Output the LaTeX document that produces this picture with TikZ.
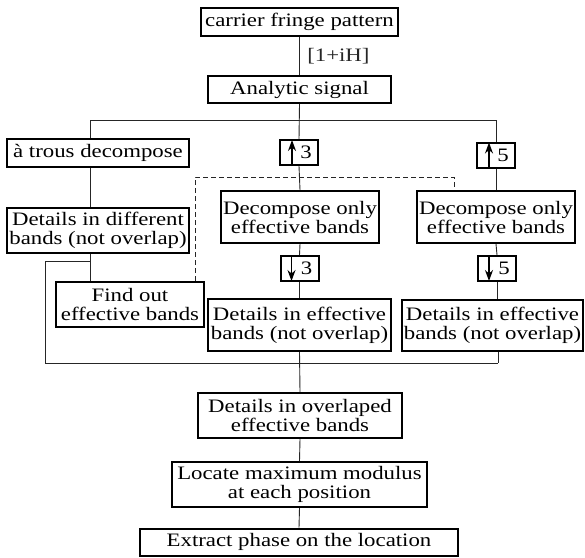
\documentclass[tikz,border=0pt]{standalone}
\usepackage{fontspec}
\setmainfont{Liberation Serif}[FakeStretch=1.2]
\usetikzlibrary{arrows.meta, positioning, calc}

\begin{document}
\begin{tikzpicture}[
  x=1pt, y=-1pt,
  %% Process box style
  box/.style={
    rectangle, draw, line width=2pt,
    align=center, font=\fontsize{19}{19}\selectfont,
    inner xsep=2pt, inner ysep=1pt
  },
  %% Up/down sampling box
  smp/.style={box, minimum width=38pt, minimum height=25pt, inner sep=0pt},
  %% Thin connector
  lnk/.style={line width=0.9pt, black!85},
  %% Sampling arrow inside box
  sarr/.style={-{Stealth[length=11pt,width=8pt]}, line width=1.3pt},
]

%% ── Frame ───────────────────────────────────────────────────────────────────
\useasboundingbox (0,0) rectangle (585,557);

%% ── TOP ─────────────────────────────────────────────────────────────────────
\node[box, minimum width=197pt, minimum height=28pt]
  (carrier) at (299.5,22) {carrier fringe pattern};
\node[box, minimum width=183pt, minimum height=27pt]
  (analytic) at (299.5,89.5) {Analytic signal};

%% ── LEFT BRANCH ─────────────────────────────────────────────────────────────
\node[box, minimum width=182pt, minimum height=28pt]
  (atrous) at (98,153) {à trous decompose};
\node[box, minimum width=182pt, minimum height=45pt]
  (ddiff) at (98,230.5) {Details in different\\bands (not overlap)};
\node[box, minimum width=148pt, minimum height=45pt]
  (find) at (130,304.5) {Find out\\effective bands};

%% ── MIDDLE BRANCH ───────────────────────────────────────────────────────────
\node[smp] (up3) at (299,152.5) {\hspace*{14pt}3};
\node[box, minimum width=156pt, minimum height=52pt]
  (mdec) at (300,217) {Decompose only\\effective bands};
\node[smp] (dn3) at (299.5,268.5) {\hspace*{14pt}3};
\node[box, minimum width=183pt, minimum height=52pt]
  (mdet) at (299.5,325) {Details in effective\\bands (not overlap)};

%% ── RIGHT BRANCH ────────────────────────────────────────────────────────────
\node[smp] (up5) at (496,155) {\hspace*{14pt}5};
\node[box, minimum width=156pt, minimum height=52pt]
  (rdec) at (496,217) {Decompose only\\effective bands};
\node[smp] (dn5) at (497,268.5) {\hspace*{14pt}5};
\node[box, minimum width=181pt, minimum height=51pt]
  (rdet) at (492.5,325) {Details in effective\\bands (not overlap)};

%% ── BOTTOM ──────────────────────────────────────────────────────────────────
\node[box, minimum width=204pt, minimum height=45pt]
  (overl) at (300,415.5) {Details in overlaped\\effective bands};
\node[box, minimum width=255pt, minimum height=45pt]
  (locate) at (299.5,484.5) {Locate maximum modulus\\at each position};
\node[box, minimum width=318pt, minimum height=27pt]
  (extract) at (299,542) {Extract phase on the location};

%% ── Sampling arrows ─────────────────────────────────────────────────────────
\draw[sarr] ([xshift=-7pt]up3.south) -- ([xshift=-7pt,yshift=-1pt]up3.north);
\draw[sarr] ([xshift=-7pt]up5.south) -- ([xshift=-7pt,yshift=-1pt]up5.north);
\draw[sarr] ([xshift=-8pt]dn3.north) -- ([xshift=-8pt,yshift=1pt]dn3.south);
\draw[sarr] ([xshift=-8pt]dn5.north) -- ([xshift=-8pt,yshift=1pt]dn5.south);

%% ── Main flow ───────────────────────────────────────────────────────────────
\draw[lnk] (carrier) -- (analytic)
  node[midway, right=4pt, font=\fontsize{19}{19}\selectfont] {[1+iH]};
\draw[lnk] (analytic.south) -- (up3.north);
\draw[lnk] ([xshift=-8pt]atrous.north) -- ++(0,-18) -| (up5.north);

%% left
\draw[lnk] ([xshift=-8pt]atrous.south) -- ([xshift=-8pt]ddiff.north);
\draw[lnk] ([xshift=-8pt]ddiff.south) -- ([xshift=-40pt]find.north);
%% middle
\draw[lnk] (up3.south) -- (mdec.north);
\draw[lnk] (mdec.south) -- (dn3.north);
\draw[lnk] (dn3.south) -- (mdet.north);
%% right
\draw[lnk] (up5.south) -- (rdec.north);
\draw[lnk] (rdec.south) -- (dn5.north);
\draw[lnk] (dn5.south) -- (dn5.south |- rdet.north);

%% ── Merge ───────────────────────────────────────────────────────────────────
\coordinate (lj) at (90,261);
\coordinate (lc) at (45,363);
\coordinate (rc) at (498,363);
\draw[lnk] (lj) -| (lc) -- (rc);
\draw[lnk] (rdet.south -| rc) -- (rc);
\draw[lnk] (mdet.south) -- (overl.north);
\draw[lnk] (overl.south) -- (locate.north);
\draw[lnk] (locate.south) -- (extract.north);

%% ── Dashed feedback ─────────────────────────────────────────────────────────
\coordinate (dtop) at (454,177);
\coordinate (dend) at (454,188);
\draw[lnk, dashed, dash pattern=on 5pt off 3pt]
  ([xshift=65pt]find.north) |- (dtop) -- (dend);

\end{tikzpicture}
\end{document}
